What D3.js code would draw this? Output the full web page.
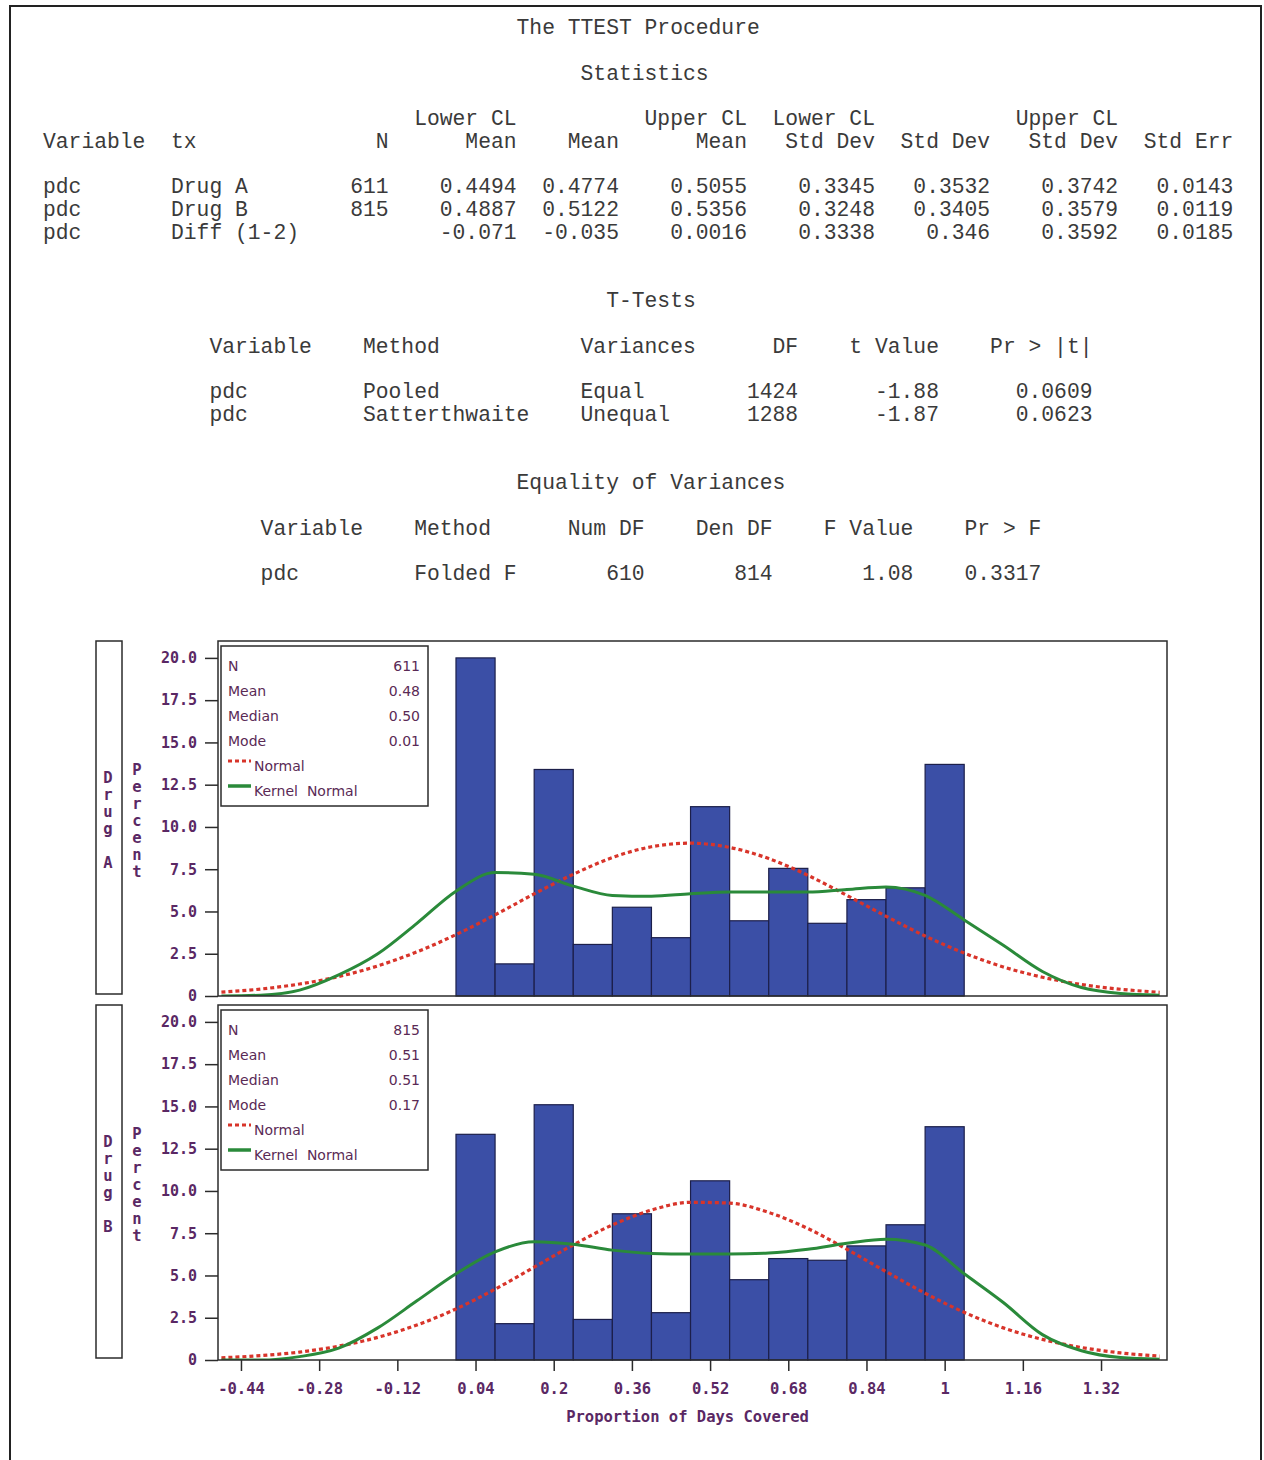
<!DOCTYPE html>
<html>
<head>
<meta charset="utf-8">
<script src="https://cdn.jsdelivr.net/npm/d3@7"></script>
<style>
  body { margin: 0; background: #fff; }
  svg { display: block; }
</style>
</head>
<body>
<svg id="chart" width="1264" height="1460"></svg>
<script>
// ---- listing values (SAS TTEST output) ----
const statVar = ['pdc', 'pdc', 'pdc'];
const statTx = ['Drug A', 'Drug B', 'Diff (1-2)'];
const statN = ['611', '815', ''];
const statLowerMean = ['0.4494', '0.4887', '-0.071'];
const statMean = ['0.4774', '0.5122', '-0.035'];
const statUpperMean = ['0.5055', '0.5356', '0.0016'];
const statLowerSd = ['0.3345', '0.3248', '0.3338'];
const statSd = ['0.3532', '0.3405', '0.346'];
const statUpperSd = ['0.3742', '0.3579', '0.3592'];
const statStdErr = ['0.0143', '0.0119', '0.0185'];

const ttMethod = ['Pooled', 'Satterthwaite'];
const ttVariances = ['Equal', 'Unequal'];
const ttDF = ['1424', '1288'];
const ttT = ['-1.88', '-1.87'];
const ttP = ['0.0609', '0.0623'];

const eqMethod = 'Folded F', eqNumDF = '610', eqDenDF = '814', eqF = '1.08', eqP = '0.3317';

// ---- histogram values ----
const binMids = [0.04, 0.12, 0.20, 0.28, 0.36, 0.44, 0.52, 0.60, 0.68, 0.76, 0.84, 0.92, 1.00];
const binWidth = 0.08;
const drugAPct = [20.0, 1.9, 13.4, 3.05, 5.25, 3.45, 11.2, 4.45, 7.55, 4.3, 5.7, 6.4, 13.7];
const drugBPct = [13.35, 2.15, 15.1, 2.4, 8.65, 2.8, 10.6, 4.75, 6.0, 5.9, 6.75, 8.0, 13.8];

const curveX = [-0.48, -0.40, -0.32, -0.24, -0.16, -0.08, 0.00, 0.08, 0.16, 0.24, 0.32, 0.40, 0.48,
                0.56, 0.64, 0.72, 0.80, 0.88, 0.96, 1.04, 1.12, 1.20, 1.28, 1.36, 1.44];
const normalA = [0.23, 0.41, 0.71, 1.15, 1.78, 2.61, 3.63, 4.8, 6.04, 7.2, 8.19, 8.83, 9.04,
                 8.79, 8.13, 7.14, 5.95, 4.72, 3.55, 2.54, 1.72, 1.11, 0.68, 0.4, 0.22];
const kernelA = [0.0, 0.05, 0.35, 1.25, 2.5, 4.3, 6.2, 7.3, 7.2, 6.5, 5.95, 5.9, 6.05,
                 6.15, 6.15, 6.15, 6.3, 6.45, 5.95, 4.5, 3.0, 1.45, 0.5, 0.15, 0.05];
const normalB = [0.13, 0.26, 0.47, 0.82, 1.34, 2.07, 3.02, 4.19, 5.49, 6.81, 7.99, 8.87, 9.33,
                 9.28, 8.73, 7.78, 6.55, 5.23, 3.95, 2.82, 1.9, 1.22, 0.74, 0.42, 0.23];
const kernelB = [0.0, 0.0, 0.2, 0.7, 1.9, 3.5, 5.1, 6.4, 7.0, 6.85, 6.5, 6.3, 6.27,
                 6.27, 6.33, 6.55, 6.9, 7.15, 6.8, 5.1, 3.4, 1.5, 0.55, 0.15, 0.05];

const legendLabels = ['N', 'Mean', 'Median', 'Mode'];
const drugAStats = ['611', '0.48', '0.50', '0.01'];
const drugBStats = ['815', '0.51', '0.51', '0.17'];

const yTicks = [0, 2.5, 5, 7.5, 10, 12.5, 15, 17.5, 20];
const yTickLabels = ['0', '2.5', '5.0', '7.5', '10.0', '12.5', '15.0', '17.5', '20.0'];
const xTicks = [-0.44, -0.28, -0.12, 0.04, 0.2, 0.36, 0.52, 0.68, 0.84, 1, 1.16, 1.32];
const xTickLabels = ['-0.44', '-0.28', '-0.12', '0.04', '0.2', '0.36', '0.52', '0.68', '0.84', '1', '1.16', '1.32'];

// ---- drawing ----
const svg = d3.select('#chart');
const ink = '#2b2b2b', purple = '#5a2864', legendInk = '#5a2a55';

svg.append('rect').attr('x', 10).attr('y', 6).attr('width', 1251).attr('height', 1470)
  .attr('fill', 'none').attr('stroke', '#222').attr('stroke-width', 2);

// SAS listing: monospace lines laid out on a character grid
const charW = 12.8, listX = 43, lineY0 = 34, linePitch = 22.75;
function line(parts) {
  const chars = Array(100).fill(' ');
  parts.forEach(([txt, col, align]) => {
    const start = align === 'r' ? col - txt.length : col;
    for (let i = 0; i < txt.length; i++) chars[start + i] = txt[i];
  });
  return chars.join('').replace(/\s+$/, '');
}
const listing = [];
listing.push([0, line([['The TTEST Procedure', 37]])]);
listing.push([2, line([['Statistics', 42]])]);
listing.push([4, line([['Lower CL', 37, 'r'], ['Upper CL', 55, 'r'], ['Lower CL', 65, 'r'], ['Upper CL', 84, 'r']])]);
listing.push([5, line([['Variable', 0], ['tx', 10], ['N', 27, 'r'], ['Mean', 37, 'r'], ['Mean', 45, 'r'],
  ['Mean', 55, 'r'], ['Std Dev', 65, 'r'], ['Std Dev', 74, 'r'], ['Std Dev', 84, 'r'], ['Std Err', 93, 'r']])]);
statVar.forEach((v, i) => {
  listing.push([7 + i, line([[v, 0], [statTx[i], 10], [statN[i], 27, 'r'], [statLowerMean[i], 37, 'r'],
    [statMean[i], 45, 'r'], [statUpperMean[i], 55, 'r'], [statLowerSd[i], 65, 'r'], [statSd[i], 74, 'r'],
    [statUpperSd[i], 84, 'r'], [statStdErr[i], 93, 'r']])]);
});
listing.push([12, line([['T-Tests', 44]])]);
listing.push([14, line([['Variable', 13], ['Method', 25], ['Variances', 42], ['DF', 59, 'r'],
  ['t Value', 70, 'r'], ['Pr > |t|', 82, 'r']])]);
ttMethod.forEach((m, i) => {
  listing.push([16 + i, line([['pdc', 13], [m, 25], [ttVariances[i], 42], [ttDF[i], 59, 'r'],
    [ttT[i], 70, 'r'], [ttP[i], 82, 'r']])]);
});
listing.push([20, line([['Equality of Variances', 37]])]);
listing.push([22, line([['Variable', 17], ['Method', 29], ['Num DF', 47, 'r'], ['Den DF', 57, 'r'],
  ['F Value', 68, 'r'], ['Pr > F', 78, 'r']])]);
listing.push([24, line([['pdc', 17], [eqMethod, 29], [eqNumDF, 47, 'r'], [eqDenDF, 57, 'r'],
  [eqF, 68, 'r'], [eqP, 78, 'r']])]);

svg.append('g').selectAll('text').data(listing).enter().append('text')
  .attr('x', listX).attr('y', d => lineY0 + d[0] * linePitch)
  .attr('font-family', '"Liberation Mono", "Courier New", monospace').attr('font-size', '21.33px')
  .attr('fill', '#3a3a3a').style('white-space', 'pre').text(d => d[1]);

// ---- histogram panels ----
const plotL = 218, plotR = 1167;
const x = d3.scaleLinear().domain([-0.487, 1.455]).range([plotL, plotR]);
const tickFont = '"DejaVu Sans Mono", monospace';

const panels = [
  { label: 'Drug A', top: 641, bottom: 996, pct: drugAPct, normal: normalA, kernel: kernelA, stats: drugAStats },
  { label: 'Drug B', top: 1005, bottom: 1360, pct: drugBPct, normal: normalB, kernel: kernelB, stats: drugBStats }
];

function stackedLetters(g, str, cx, cy, pitch) {
  const t = g.append('text').attr('font-family', tickFont).attr('font-weight', 'bold')
    .attr('font-size', '15.5px').attr('fill', purple).attr('text-anchor', 'middle');
  const chars = str.split('');
  const y0 = cy - (chars.length - 1) * pitch / 2;
  chars.forEach((c, i) => {
    t.append('tspan').attr('x', cx).attr('y', y0 + i * pitch).attr('dy', '0.35em').text(c === ' ' ? '\u00a0' : c);
  });
}

panels.forEach((p, pi) => {
  const g = svg.append('g');
  const y = d3.scaleLinear().domain([0, 21]).range([p.bottom, p.top]);
  const mid = (p.top + p.bottom) / 2;

  // panel label box + stacked letters
  g.append('rect').attr('x', 96).attr('y', p.top).attr('width', 26).attr('height', p.bottom - p.top - 2)
    .attr('fill', 'none').attr('stroke', ink).attr('stroke-width', 1.5);
  stackedLetters(g, p.label, 108, mid + 2, 17);
  stackedLetters(g, 'Percent', 137, mid + 2, 17);

  const clipId = 'clip' + pi;
  g.append('clipPath').attr('id', clipId).append('rect')
    .attr('x', plotL).attr('y', p.top).attr('width', plotR - plotL).attr('height', p.bottom - p.top);

  // bars
  g.append('g').selectAll('rect').data(p.pct).enter().append('rect')
    .attr('x', (d, i) => x(binMids[i] - binWidth / 2))
    .attr('width', (d, i) => x(binMids[i] + binWidth / 2) - x(binMids[i] - binWidth / 2))
    .attr('y', d => y(d)).attr('height', d => y(0) - y(d))
    .attr('fill', '#3b4fa6').attr('stroke', '#1c1f4a').attr('stroke-width', 1.2);

  // curves
  const path = d3.line().x((d, i) => x(curveX[i])).y(d => y(d)).curve(d3.curveMonotoneX);
  const curves = g.append('g').attr('clip-path', `url(#${clipId})`);
  curves.append('path').attr('d', path(p.normal)).attr('fill', 'none')
    .attr('stroke', '#d8342a').attr('stroke-width', 3.2).attr('stroke-dasharray', '4,3');
  curves.append('path').attr('d', path(p.kernel)).attr('fill', 'none')
    .attr('stroke', '#2a8a3a').attr('stroke-width', 3);

  // frame
  g.append('rect').attr('x', plotL).attr('y', p.top).attr('width', plotR - plotL).attr('height', p.bottom - p.top)
    .attr('fill', 'none').attr('stroke', ink).attr('stroke-width', 1.5);

  // y axis
  const ya = g.append('g').attr('transform', `translate(${plotL},0)`)
    .call(d3.axisLeft(y).tickValues(yTicks).tickFormat((d, i) => yTickLabels[i]).tickSize(13).tickPadding(8));
  ya.select('.domain').remove();
  ya.selectAll('line').attr('stroke', ink).attr('stroke-width', 1.5);
  ya.selectAll('text').attr('font-family', tickFont).attr('font-weight', 'bold')
    .attr('font-size', '15px').attr('fill', purple);

  // inset legend
  const lg = g.append('g').attr('transform', `translate(221,${p.top + 5})`);
  lg.append('rect').attr('width', 207).attr('height', 160).attr('fill', '#fff')
    .attr('stroke', ink).attr('stroke-width', 1.5);
  const lt = lg.append('g').attr('font-family', '"DejaVu Sans", sans-serif').attr('font-size', '14px').attr('fill', legendInk);
  legendLabels.forEach((lab, i) => {
    lt.append('text').attr('x', 7).attr('y', 25 + i * 25).text(lab);
    lt.append('text').attr('x', 199).attr('y', 25 + i * 25).attr('text-anchor', 'end').text(p.stats[i]);
  });
  lg.append('line').attr('x1', 7).attr('x2', 30).attr('y1', 115).attr('y2', 115)
    .attr('stroke', '#d8342a').attr('stroke-width', 3).attr('stroke-dasharray', '4,3');
  lt.append('text').attr('x', 33).attr('y', 125).text('Normal');
  lg.append('line').attr('x1', 7).attr('x2', 30).attr('y1', 140).attr('y2', 140)
    .attr('stroke', '#2a8a3a').attr('stroke-width', 3.5);
  lt.append('text').attr('x', 33).attr('y', 150).text('Kernel  Normal').style('white-space', 'pre');

  // x axis only under the last panel
  if (pi === panels.length - 1) {
    const xa = g.append('g').attr('transform', `translate(0,${p.bottom})`)
      .call(d3.axisBottom(x).tickValues(xTicks).tickFormat((d, i) => xTickLabels[i]).tickSize(11).tickPadding(12));
    xa.select('.domain').remove();
    xa.selectAll('line').attr('stroke', ink).attr('stroke-width', 1.5);
    xa.selectAll('text').attr('font-family', tickFont).attr('font-weight', 'bold')
      .attr('font-size', '15.5px').attr('fill', purple);
    g.append('text').attr('x', (plotL + plotR) / 2 - 5).attr('y', p.bottom + 62).attr('text-anchor', 'middle')
      .attr('font-family', tickFont).attr('font-weight', 'bold').attr('font-size', '15.5px')
      .attr('fill', purple).text('Proportion of Days Covered');
  }
});
</script>
</body>
</html>
